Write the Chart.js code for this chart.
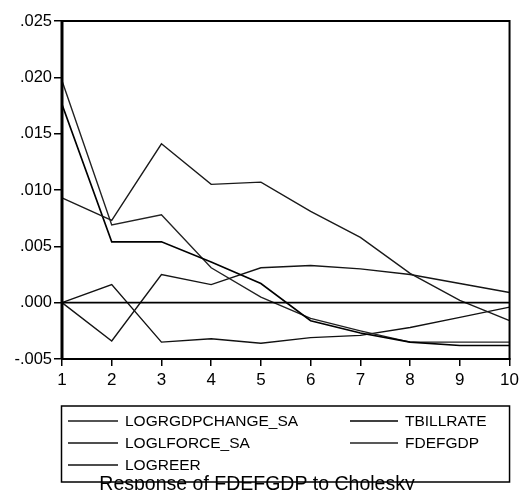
<!DOCTYPE html>
<html>
<head>
<meta charset="utf-8">
<script src="https://cdn.jsdelivr.net/npm/chart.js@4/dist/chart.umd.min.js"></script>
<style>
  html, body { margin: 0; padding: 0; background: #fff; }
  #wrap { width: 523px; height: 490px; position: relative; }
</style>
</head>
<body>
<div id="wrap"><canvas id="c" width="523" height="490"></canvas></div>
<script>
// Impulse-response horizon (periods)
const periods = ['1', '2', '3', '4', '5', '6', '7', '8', '9', '10'];

// Responses of FDEFGDP to each Cholesky shock
const logrgdpchangeSa = [0.0093, 0.0073, 0.0141, 0.0105, 0.0107, 0.0081, 0.0058, 0.0026, 0.0002, -0.0016];
const tbillrate       = [0.0176, 0.0054, 0.0054, 0.0036, 0.0017, -0.0016, -0.0027, -0.0035, -0.0038, -0.0038];
const loglforceSa     = [0.0000, -0.0034, 0.0025, 0.0016, 0.0031, 0.0033, 0.0030, 0.0025, 0.0017, 0.0009];
const fdefgdp         = [0.0197, 0.0069, 0.0078, 0.0031, 0.0005, -0.0014, -0.0025, -0.0035, -0.0035, -0.0035];
const logreer         = [0.0000, 0.0016, -0.0035, -0.0032, -0.0036, -0.0031, -0.0029, -0.0022, -0.0013, -0.0004];

const seriesNames = ['LOGRGDPCHANGE_SA', 'TBILLRATE', 'LOGLFORCE_SA', 'FDEFGDP', 'LOGREER'];
const titleText = 'Response of FDEFGDP to Cholesky';

const FONT = "'Liberation Sans', Arial, sans-serif";

function ds(label, data, color, width) {
  return {
    label, data,
    borderColor: color,
    borderWidth: width,
    pointRadius: 0,
    tension: 0,
    fill: false
  };
}

// Frame, zero line and the boxed legend below the plot
const decorations = {
  id: 'decorations',
  afterDatasetsDraw(chart) {
    const { ctx, chartArea: a, scales } = chart;
    const y0 = scales.y.getPixelForValue(0);
    ctx.save();
    ctx.strokeStyle = '#000';
    ctx.lineWidth = 1.6;
    ctx.beginPath();
    ctx.moveTo(a.left, y0);
    ctx.lineTo(a.right, y0);
    ctx.stroke();

    // plot frame
    ctx.lineWidth = 2;
    ctx.beginPath();
    ctx.moveTo(a.left, a.top);
    ctx.lineTo(a.right, a.top);
    ctx.lineTo(a.right, a.bottom);
    ctx.stroke();
    ctx.lineWidth = 3;
    ctx.beginPath();
    ctx.moveTo(a.left, a.top - 1);
    ctx.lineTo(a.left, a.bottom);
    ctx.stroke();
    ctx.lineWidth = 2;
    ctx.beginPath();
    ctx.moveTo(a.left - 1, a.bottom);
    ctx.lineTo(a.right + 1, a.bottom);
    ctx.stroke();
    ctx.restore();
  },
  afterDraw(chart) {
    const { ctx, chartArea: a } = chart;
    const boxTop = 406, boxBottom = 482;
    const cols = [{ s0: 68, s1: 118, t: 125 }, { s0: 350, s1: 398, t: 405 }];
    const rows = [421, 443, 465];
    ctx.save();
    ctx.font = '15.5px ' + FONT;
    ctx.textBaseline = 'middle';
    ctx.textAlign = 'left';
    chart.data.datasets.forEach((d, i) => {
      const c = cols[i % 2], r = rows[Math.floor(i / 2)];
      ctx.strokeStyle = d.borderColor;
      ctx.lineWidth = d.borderWidth;
      ctx.beginPath();
      ctx.moveTo(c.s0, r);
      ctx.lineTo(c.s1, r);
      ctx.stroke();
      ctx.fillStyle = '#000';
      ctx.fillText(d.label, c.t, r + 1);
    });

    // partly hidden title under the legend box
    ctx.font = '19.5px ' + FONT;
    ctx.textAlign = 'center';
    ctx.textBaseline = 'alphabetic';
    ctx.fillText(titleText, 257, 490);

    ctx.strokeStyle = '#000';
    ctx.lineWidth = 1.5;
    ctx.strokeRect(a.left - 0.5, boxTop, a.right - a.left + 0.5, boxBottom - boxTop);
    ctx.restore();
  }
};

const fmt = v => {
  const s = Math.abs(v).toFixed(3).replace(/^0/, '');
  return (v < -1e-9 ? '-' : '') + s;
};

new Chart(document.getElementById('c'), {
  type: 'line',
  data: {
    labels: periods,
    datasets: [
      ds(seriesNames[0], logrgdpchangeSa, '#1a1a1a', 1.4),
      ds(seriesNames[1], tbillrate, '#000', 1.6),
      ds(seriesNames[2], loglforceSa, '#151515', 1.4),
      ds(seriesNames[3], fdefgdp, '#222', 1.4),
      ds(seriesNames[4], logreer, '#111', 1.4)
    ]
  },
  options: {
    responsive: false,
    animation: false,
    devicePixelRatio: 1,
    layout: { padding: { left: 0, top: 21, right: 12, bottom: 100 } },
    plugins: { legend: { display: false }, tooltip: { enabled: false } },
    scales: {
      x: {
        type: 'category',
        offset: false,
        border: { display: false },
        grid: { drawOnChartArea: false, drawTicks: true, tickLength: 7, color: '#000', lineWidth: 1.5 },
        ticks: { color: '#000', font: { family: FONT, size: 17 }, padding: 4, maxRotation: 0, autoSkip: false },
        afterFit(s) { s.height = 31; }
      },
      y: {
        min: -0.005,
        max: 0.025,
        border: { display: false },
        grid: { drawOnChartArea: false, drawTicks: true, tickLength: 8, color: '#000', lineWidth: 1.5 },
        ticks: { stepSize: 0.005, color: '#000', font: { family: FONT, size: 16.5 }, padding: 2, callback: fmt },
        afterFit(s) { s.width = 62; }
      }
    }
  },
  plugins: [decorations]
});
</script>
</body>
</html>
